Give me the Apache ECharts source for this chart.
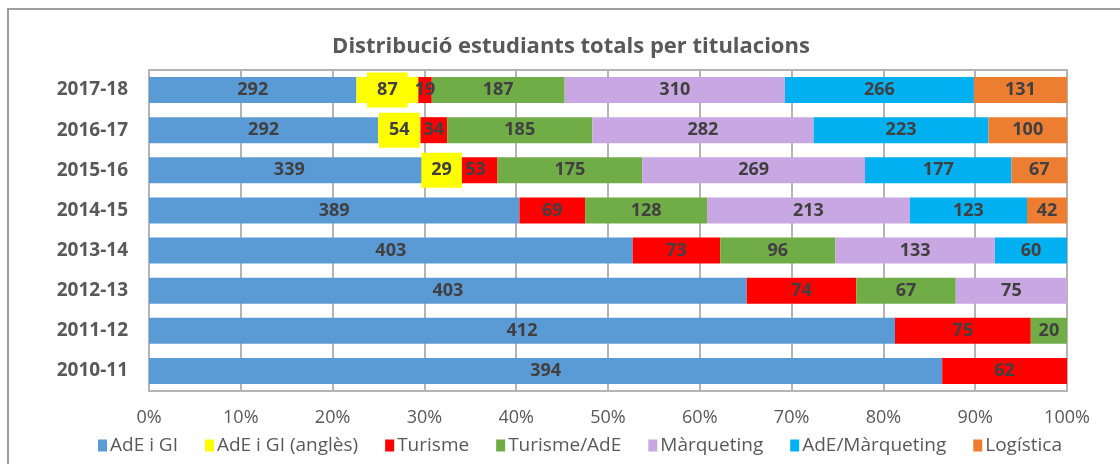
<!DOCTYPE html>
<html>
<head>
<meta charset="utf-8">
<title>Distribució estudiants totals per titulacions</title>
<script src="https://cdn.jsdelivr.net/npm/echarts@6/dist/echarts.min.js"></script>
<style>
    html, body { margin: 0; padding: 0; background: #fff; }
    #main { width: 1120px; height: 464px; }
</style>
</head>
<body>
<div id="main"></div>
<script>
    // cursos, de dalt a baix
    var cursos = ['2017-18', '2016-17', '2015-16', '2014-15', '2013-14', '2012-13', '2011-12', '2010-11'];

    // estudiants per titulació (null = no hi havia titulació)
    var adeGi       = [292, 292, 339, 389, 403, 403, 412, 394];
    var adeGiAngles = [87, 54, 29, null, null, null, null, null];
    var turisme     = [19, 34, 53, 69, 73, 74, 75, 62];
    var turismeAde  = [187, 185, 175, 128, 96, 67, 20, null];
    var marqueting  = [310, 282, 269, 213, 133, 75, null, null];
    var adeMarq     = [266, 223, 177, 123, 60, null, null, null];
    var logistica   = [131, 100, 67, 42, null, null, null, null];

    var xTicks = [0, 10, 20, 30, 40, 50, 60, 70, 80, 90, 100];

    var noms = ['AdE i GI', 'AdE i GI (anglès)', 'Turisme', 'Turisme/AdE', 'Màrqueting', 'AdE/Màrqueting', 'Logística'];
    var colors = ['#5B9BD5', '#FFFF00', '#FF0000', '#70AD47', '#C9A7E2', '#00B0F0', '#ED7D31'];
    var valors = [adeGi, adeGiAngles, turisme, turismeAde, marqueting, adeMarq, logistica];

    // total de cada curs per fer el 100%
    var totals = cursos.map(function(c, i){
        var s = 0;
        valors.forEach(function(v){ if (v[i] != null) s += v[i]; });
        return s;
    });

    var labelFont = {
        fontFamily: 'Open Sans',
        fontWeight: 'bold',
        fontSize: 18,
        color: '#404040'
    };

    var series = valors.map(function(v, k){
        var label = Object.assign({
            show: true,
            position: 'inside',
            formatter: function(p){ return v[p.dataIndex]; }
        }, labelFont);
        if (k === 1) {
            // etiqueta groga amb caixa
            label.backgroundColor = '#FFFF00';
            label.padding = [9, 10, 8, 10];
        }
        return {
            name: noms[k],
            type: 'bar',
            stack: 'total',
            barWidth: 26,
            itemStyle: { color: colors[k] },
            label: label,
            data: v.map(function(x, i){ return x == null ? null : x / totals[i] * 100; })
        };
    });

    var chart = echarts.init(document.getElementById('main'));
    chart.setOption({
        animation: false,
        textStyle: { fontFamily: 'Open Sans' },
        title: {
            text: 'Distribució estudiants totals per titulacions',
            left: 566,
            top: 31,
            textAlign: 'center',
            textStyle: {
                fontFamily: 'Open Sans',
                fontWeight: 'bold',
                fontSize: 22,
                color: '#595959'
            }
        },
        graphic: [{
            // marc exterior
            type: 'rect',
            shape: { x: 8, y: 9, width: 1300, height: 700 },
            style: { fill: 'none', stroke: '#9e9e9e', lineWidth: 2 },
            silent: true
        }],
        legend: {
            data: noms,
            left: 93,
            top: 431,
            icon: 'rect',
            itemWidth: 9,
            itemHeight: 12,
            itemGap: 27,
            textStyle: { fontFamily: 'Open Sans', fontSize: 19, color: '#595959', padding: [0, 0, 0, -2] }
        },
        grid: {
            left: 149,
            right: 53,
            top: 70,
            bottom: 73,
            show: true,
            borderColor: '#b4b4b4',
            borderWidth: 2
        },
        xAxis: {
            type: 'value',
            min: xTicks[0],
            max: xTicks[xTicks.length - 1],
            interval: xTicks[1] - xTicks[0],
            axisLine: { show: false },
            axisTick: { show: false },
            splitLine: { lineStyle: { color: '#b4b4b4', width: 2 } },
            axisLabel: {
                formatter: '{value}%',
                margin: 18,
                fontFamily: 'Open Sans',
                fontSize: 18,
                color: '#595959'
            }
        },
        yAxis: {
            type: 'category',
            inverse: true,
            data: cursos,
            axisLine: { show: false },
            axisTick: { show: false },
            axisLabel: {
                margin: 21,
                fontFamily: 'Open Sans',
                fontWeight: 'bold',
                fontSize: 19,
                color: '#595959'
            }
        },
        series: series
    });
</script>
</body>
</html>
